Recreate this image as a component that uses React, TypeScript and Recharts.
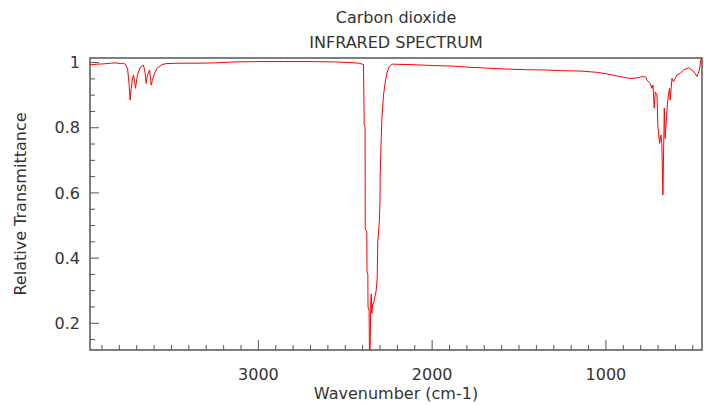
import React from 'react';
import { LineChart, Line, XAxis, YAxis, ReferenceArea } from 'recharts';

// wavenumber (cm-1), left to right on the reversed axis
const WAVENUMBER = [
  3969, 3930, 3890, 3850, 3820, 3795, 3775, 3766, 3753, 3745, 3738, 3732, 3726, 3719, 3713, 3707,
  3702, 3696, 3680, 3661, 3652, 3646, 3638, 3627, 3621, 3617, 3610, 3604, 3595, 3584, 3555, 3526,
  3450, 3350, 3250, 3130, 3000, 2850, 2700, 2560, 2470, 2420, 2395, 2391, 2386, 2385, 2376, 2375,
  2370, 2369, 2363, 2361, 2357, 2353, 2350, 2347, 2342, 2337, 2330, 2322, 2316, 2313, 2308, 2303,
  2300, 2299, 2293, 2289, 2280, 2270, 2260, 2247, 2231, 2222, 2150, 2088, 2000, 1877, 1800, 1723,
  1650, 1570, 1450, 1339, 1250, 1147, 1050, 994, 930, 879, 860, 820, 800, 783, 770, 764, 745, 735,
  729, 722, 716, 706, 701, 691, 683, 678, 672, 668, 664, 659, 653, 645, 634, 630, 620, 611, 591,
  573, 553, 524, 505, 487, 476, 462, 454, 449,
];

const TRANSMITTANCE = [
  0.993, 0.995, 0.996, 0.998, 0.999, 0.997, 0.998, 0.995, 0.982, 0.94, 0.885, 0.92, 0.946, 0.962, 0.945, 0.921,
  0.94, 0.962, 0.985, 0.992, 0.97, 0.936, 0.962, 0.977, 0.955, 0.931, 0.945, 0.957, 0.97, 0.982, 0.994, 0.997,
  0.998, 0.998, 0.999, 1.002, 1.003, 1.003, 1.003, 1.002, 1.0, 0.998, 0.994, 0.81, 0.8, 0.49, 0.48, 0.36,
  0.35, 0.25, 0.24, 0.12, 0.12, 0.27, 0.29, 0.23, 0.26, 0.26, 0.28, 0.3, 0.34, 0.45, 0.48, 0.52,
  0.58, 0.65, 0.77, 0.83, 0.9, 0.94, 0.968, 0.987, 0.995, 0.995, 0.994, 0.993, 0.991, 0.989, 0.986, 0.984,
  0.982, 0.98, 0.978, 0.977, 0.975, 0.974, 0.97, 0.965, 0.958, 0.953, 0.951, 0.953, 0.956, 0.957, 0.955, 0.946, 0.936, 0.921,
  0.931, 0.86, 0.91, 0.9, 0.803, 0.752, 0.778, 0.747, 0.594, 0.726, 0.86, 0.767, 0.818, 0.88, 0.921, 0.885, 0.951, 0.941, 0.962,
  0.967, 0.977, 0.984, 0.977, 0.967, 0.957, 0.977, 1.008, 1.012,
];

const X_TICKS = [
  3900, 3800, 3700, 3600, 3500, 3400, 3300, 3200, 3100, 3000, 2900, 2800, 2700, 2600, 2500, 2400, 2300,
  2200, 2100, 2000, 1900, 1800, 1700, 1600, 1500, 1400, 1300, 1200, 1100, 1000, 900, 800, 700, 600, 500,
];
const X_LABELS = [3000, 2000, 1000];

const Y_TICKS = [0.15, 0.2, 0.25, 0.3, 0.35, 0.4, 0.45, 0.5, 0.55, 0.6, 0.65, 0.7, 0.75, 0.8, 0.85, 0.9, 0.95, 1];
const Y_LABELS = [0.2, 0.4, 0.6, 0.8, 1];

const X_MIN = 447;
const X_MAX = 3969;
const Y_MIN = 0.118;
const Y_MAX = 1.014;

const data = WAVENUMBER.map((w, i) => ({ w, t: TRANSMITTANCE[i] }));

const font = '"DejaVu Sans", Verdana, sans-serif';
const textColor = '#333';
const frameColor = '#555';

function XTick(props: any) {
  const { x, y, payload } = props;
  const major = X_LABELS.includes(payload.value);
  return (
    <g>
      <line x1={x} y1={y} x2={x} y2={y - (major ? 10 : 5)} stroke={frameColor} />
      {major && (
        <text x={x} y={y + 24} dy="0.355em" textAnchor="middle" fill={textColor} fontSize={16} fontFamily={font}>
          {payload.value}
        </text>
      )}
    </g>
  );
}

function YTick(props: any) {
  const { x, y, payload } = props;
  const major = Y_LABELS.includes(payload.value);
  return (
    <g>
      <line x1={x} y1={y} x2={x + (major ? 9 : 5)} y2={y} stroke={frameColor} />
      {major && (
        <text x={x - 10} y={y} dy="0.355em" textAnchor="end" fill={textColor} fontSize={16} fontFamily={font}>
          {payload.value}
        </text>
      )}
    </g>
  );
}

const titleStyle: React.CSSProperties = {
  position: 'absolute',
  left: 196,
  width: 400,
  textAlign: 'center',
  fontFamily: font,
  fontSize: 16,
  lineHeight: '16px',
  color: textColor,
};

export default function App() {
  return (
    <div style={{ position: 'absolute', left: 0, top: 0, width: 704, height: 405, background: '#fff' }}>
      <div style={{ ...titleStyle, top: 10 }}>Carbon dioxide</div>
      <div style={{ ...titleStyle, top: 35 }}>INFRARED SPECTRUM</div>
      <LineChart width={704} height={405} data={data} margin={{ top: 58, right: 2, bottom: 0, left: 0 }}>
        <XAxis
          dataKey="w"
          type="number"
          domain={[X_MIN, X_MAX]}
          allowDataOverflow
          reversed
          ticks={X_TICKS}
          interval={0}
          tick={XTick}
          tickSize={0}
          tickMargin={0}
          tickLine={false}
          axisLine={false}
          height={55}
          label={{
            value: 'Wavenumber (cm-1)',
            position: 'insideBottom',
            offset: 6,
            fill: textColor,
            fontSize: 16,
            fontFamily: font,
          }}
        />
        <YAxis
          type="number"
          domain={[Y_MIN, Y_MAX]}
          allowDataOverflow
          ticks={Y_TICKS}
          interval={0}
          tick={YTick}
          tickSize={0}
          tickMargin={0}
          tickLine={false}
          axisLine={false}
          width={90}
          label={{
            value: 'Relative Transmittance',
            angle: -90,
            position: 'insideLeft',
            offset: 20,
            fill: textColor,
            fontSize: 16,
            fontFamily: font,
            style: { textAnchor: 'middle' },
          }}
        />
        <Line
          type="linear"
          dataKey="t"
          stroke="#ff0000"
          strokeWidth={1}
          dot={false}
          isAnimationActive={false}
        />
        <ReferenceArea
          x1={X_MIN}
          x2={X_MAX}
          y1={Y_MIN}
          y2={Y_MAX}
          fill="none"
          stroke={frameColor}
          strokeWidth={1.5}
          ifOverflow="visible"
        />
      </LineChart>
    </div>
  );
}
